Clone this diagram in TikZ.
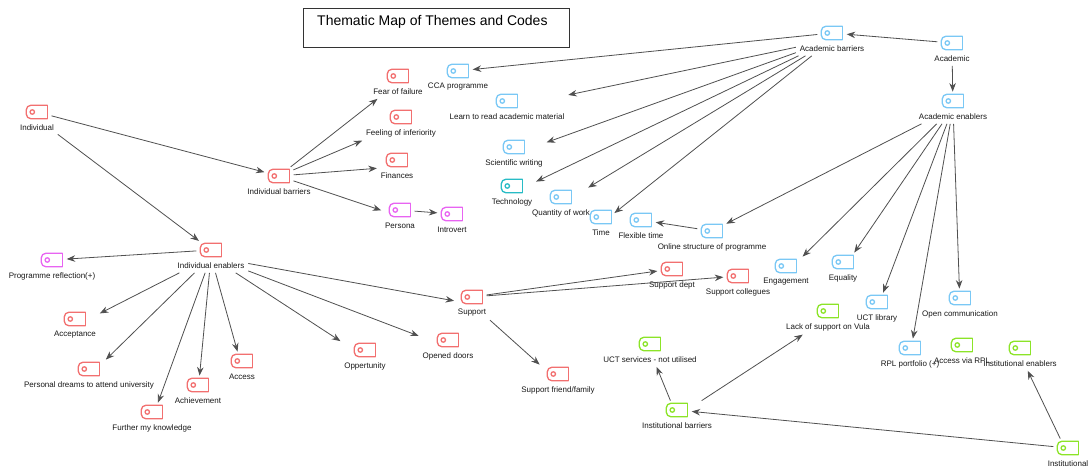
\documentclass[tikz,border=0pt]{standalone}
\usepackage{fontspec}
\setmainfont{Liberation Sans}
\usepackage{tikz}
\usetikzlibrary{arrows.meta, fit}

\definecolor{codered}{RGB}{242,112,112}
\definecolor{codeblue}{RGB}{122,200,245}
\definecolor{codeteal}{RGB}{40,188,198}
\definecolor{codegreen}{RGB}{140,228,40}
\definecolor{codepink}{RGB}{232,100,242}
\definecolor{linkgrey}{RGB}{80,80,80}

\tikzstyle{tagbox} = [minimum width=21pt, minimum height=13pt, inner sep=0pt]
\tikzstyle{tagline} = [line width=1.3pt]
\tikzstyle{lab} = [font=\fontsize{8}{9}\selectfont, text=black!90, inner sep=1pt]
\tikzstyle{hull} = [inner sep=2.5pt]
\tikzstyle{link} = [draw=linkgrey, line width=0.8pt, -{Stealth[length=8.5pt,width=6.5pt]}]
\tikzstyle{gap} = [shorten <=4pt, shorten >=4pt]

% name, x, y, colour, text
\newcommand{\codetag}[5]{%
  \node[tagbox] (#1-i) at (#2,#3) {};
  \draw[tagline, draw=#4, rounded corners=4.5pt] (#1-i.north east) -- (#1-i.north west) -- (#1-i.south west) -- (#1-i.south east);
  \draw[tagline, draw=#4, line cap=rect] (#1-i.south east) -- (#1-i.north east);
  \draw[tagline, draw=#4] ([xshift=6pt]#1-i.west) circle (2.2pt);
  \node[lab] (#1-t) at (#2,#3+16) {#5};
  \node[hull, fit=(#1-i)(#1-t)] (#1) {};
}

\begin{document}
\begin{tikzpicture}[x=1pt, y=-1pt]
    \fill[white] (0,0) rectangle (1089,470);
    \useasboundingbox (0,0) rectangle (1089,470);

    % title
    \node[draw=black!80, line width=0.8pt, minimum width=266pt, minimum height=39pt, anchor=north west] (titlebox) at (303,8) {};
    \node[anchor=west, font=\fontsize{14}{16}\selectfont, inner sep=0pt] (title) at ([xshift=14pt, yshift=-14pt]titlebox.north west) {Thematic Map of Themes and Codes};

    % individual
    \codetag{ind}{37}{112}{codered}{Individual}
    \codetag{indb}{279}{176}{codered}{Individual barriers}
    \codetag{inde}{211}{250}{codered}{Individual enablers}
    \codetag{fear}{398}{76}{codered}{Fear of failure}
    \codetag{infer}{401}{117}{codered}{Feeling of inferiority}
    \codetag{fin}{397}{160}{codered}{Finances}
    \codetag{persona}{400}{210}{codepink}{Persona}
    \codetag{introvert}{452}{214}{codepink}{Introvert}
    \codetag{reflect}{52}{260}{codepink}{Programme reflection(+)}
    \codetag{accept}{75}{319}{codered}{Acceptance}
    \codetag{dreams}{89}{369}{codered}{Personal dreams to attend university}
    \codetag{further}{152}{412}{codered}{Further my knowledge}
    \codetag{achieve}{198}{385}{codered}{Achievement}
    \codetag{access}{242}{361}{codered}{Access}
    \codetag{oppert}{365}{350}{codered}{Oppertunity}
    \codetag{doors}{448}{340}{codered}{Opened doors}
    \codetag{support}{472}{297}{codered}{Support}
    \codetag{friend}{558}{374}{codered}{Support friend/family}
    \codetag{dept}{672}{269}{codered}{Support dept}
    \codetag{coll}{738}{276}{codered}{Support collegues}

    % academic
    \codetag{acad}{952}{43}{codeblue}{Academic}
    \codetag{acadb}{832}{33}{codeblue}{Academic barriers}
    \codetag{acade}{953}{101}{codeblue}{Academic enablers}
    \codetag{cca}{458}{71}{codeblue}{CCA programme}
    \codetag{learn}{507}{101}{codeblue}{Learn to read academic material}
    \codetag{sci}{514}{147}{codeblue}{Scientific writing}
    \codetag{tech}{512}{186}{codeteal}{Technology}
    \codetag{quant}{561}{197}{codeblue}{Quantity of work}
    \codetag{time}{601}{217}{codeblue}{Time}
    \codetag{flex}{641}{220}{codeblue}{Flexible time}
    \codetag{online}{712}{231}{codeblue}{Online structure of programme}
    \codetag{engage}{786}{266}{codeblue}{Engagement}
    \codetag{equal}{843}{262}{codeblue}{Equality}
    \codetag{lib}{877}{302}{codeblue}{UCT library}
    \codetag{open}{960}{298}{codeblue}{Open communication}
    \codetag{rpl}{910}{348}{codeblue}{RPL portfolio (+)}

    % institutional
    \codetag{inst}{1068}{448}{codegreen}{Institutional}
    \codetag{instb}{677}{410}{codegreen}{Institutional barriers}
    \codetag{inste}{1020}{348}{codegreen}{Institutional enablers}
    \codetag{vula}{828}{311}{codegreen}{Lack of support on Vula}
    \codetag{uct}{650}{344}{codegreen}{UCT services - not utilised}
    \codetag{rplacc}{962}{345}{codegreen}{Access via RPL}

    % links
    \draw[link, gap] (ind-i) -- (indb-i);
    \draw[link, shorten >=4pt] (ind) -- (inde-i);
    \foreach \t in {fear, infer, fin, persona}
        \draw[link, shorten <=4pt] (indb-i) -- (\t);
    \draw[link, gap] (persona-i) -- (introvert-i);
    \draw[link, gap] (inde-i) -- (reflect-i);
    \foreach \t in {accept, dreams, further, achieve, access, oppert, doors, support}
        \draw[link] (inde) -- (\t);
    \draw[link, gap] (support-i) -- (dept-i);
    \draw[link, gap] (support-i) -- (coll-i);
    \draw[link] (support) -- (friend);
    \draw[link, gap] (acad-i) -- (acadb-i);
    \draw[link] (acad) -- (acade);
    \draw[link, gap] (acadb-i) -- (cca-i);
    \foreach \t in {learn, sci, tech, quant, time}
        \draw[link] (acadb) -- (\t);
    \draw[link, gap] (online-i) -- (flex-i);
    \draw[link, shorten >=4pt] (acade) -- (online-i);
    \foreach \t in {engage, equal, lib, rpl, open}
        \draw[link] (acade) -- (\t);
    \draw[link, gap] (inst-i) -- (instb-i);
    \draw[link] (inst) -- (inste);
    \draw[link] (instb) -- (uct);
    \draw[link] (instb) -- (vula);
\end{tikzpicture}
\end{document}
